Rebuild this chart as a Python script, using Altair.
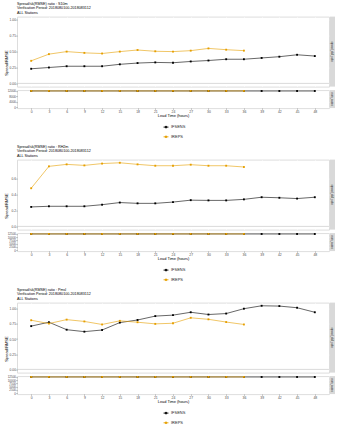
import altair as alt
import pandas as pd

# ---------------- data ----------------
leads_ifsens = [0, 3, 6, 9, 12, 15, 18, 21, 24, 27, 30, 33, 36, 39, 42, 45, 48]
leads_ireps = [0, 3, 6, 9, 12, 15, 18, 21, 24, 27, 30, 33, 36]
x_ticks = [0, 3, 6, 9, 12, 15, 18, 21, 24, 27, 30, 33, 36, 39, 42, 45, 48]
models = ["IFSENS", "IREPS"]
model_colors = ["#000000", "#E69F00"]

params = ["S10m", "RH2m", "Pmsl"]
title_prefix = "Spread/sk(RMSE) ratio : "
period_text = "Verification Period: 2018080100-2018083112"
stations_text = "ALL Stations"
y_title = "Spread/RMSE"
x_title = "Lead Time (hours)"
strip_top = "spread_skill_ratio"
strip_bottom = "num_cases"

# spread / RMSE ratios
s10m_ifsens = [0.23, 0.25, 0.27, 0.27, 0.27, 0.30, 0.32, 0.33, 0.325, 0.345, 0.36, 0.38, 0.38, 0.40, 0.42, 0.45, 0.43]
s10m_ireps = [0.355, 0.46, 0.50, 0.48, 0.47, 0.50, 0.525, 0.505, 0.50, 0.515, 0.55, 0.53, 0.515]
rh2m_ifsens = [0.245, 0.253, 0.253, 0.253, 0.273, 0.30, 0.29, 0.29, 0.306, 0.33, 0.327, 0.327, 0.34, 0.367, 0.36, 0.35, 0.367]
rh2m_ireps = [0.48, 0.755, 0.78, 0.767, 0.79, 0.80, 0.78, 0.763, 0.763, 0.776, 0.763, 0.763, 0.747]
pmsl_ifsens = [0.713, 0.777, 0.654, 0.622, 0.649, 0.771, 0.814, 0.878, 0.894, 0.941, 0.904, 0.92, 1.0, 1.048, 1.043, 1.016, 0.941]
pmsl_ireps = [0.81, 0.755, 0.82, 0.79, 0.74, 0.80, 0.777, 0.75, 0.76, 0.85, 0.825, 0.78, 0.74]

# number of cases
s10m_cases_ifsens = [11900, 11900, 11900, 11900, 11900, 11900, 11900, 11900, 11900, 11900, 11900, 11900, 11900, 11900, 11900, 11900, 11900]
s10m_cases_ireps = [11950, 11950, 11950, 11950, 11950, 11950, 11950, 11950, 11950, 11950, 11950, 11950, 11950]
rh2m_cases_ifsens = [12300, 12300, 12300, 12300, 12300, 12300, 12300, 12300, 12300, 12300, 12300, 12300, 12300, 12300, 12300, 12300, 12300]
rh2m_cases_ireps = [12350, 12350, 12350, 12350, 12350, 12350, 12350, 12350, 12350, 12350, 12350, 12350, 12350]
pmsl_cases_ifsens = [12300, 12300, 12300, 12300, 12300, 12300, 12300, 12300, 12300, 12300, 12300, 12300, 12300, 12300, 12300, 12300, 12300]
pmsl_cases_ireps = [12350, 12350, 12350, 12350, 12350, 12350, 12350, 12350, 12350, 12350, 12350, 12350, 12350]

ratio_ticks_a = [0, 0.25, 0.5, 0.75, 1.0]
ratio_ticks_b = [0, 0.2, 0.4, 0.6]
case_ticks_a = [0, 4000, 8000, 12000]
case_ticks_b = [0, 2500, 5000, 7500, 10000, 12500]
# upper limit the ratio axis must reach in each panel
ratio_reach = [1.0, 0.0, 0.0]

# ---------------- style ----------------
FONT = "Liberation Sans"
W = 312
H_TOP = 70
H_BOT = 18
BG = "#EBEBEB"
LEG_PATH = "M-1,0H1M-0.3,-0.3H0.3V0.3H-0.3Z"

x_scale = alt.Scale(domain=[-2.4, 50.4], nice=False, zero=False)
color_scale = alt.Scale(domain=models, range=model_colors)

legend_def = alt.Legend(
    title=None, orient="none", legendX=146, legendY=34, direction="vertical",
    symbolType=LEG_PATH, symbolSize=25, symbolStrokeWidth=0.8,
    labelFontSize=4, labelColor="#1A1A1A", labelFont=FONT, rowPadding=3.7,
    labelOffset=2, padding=0,
)


def build_df(ifs_vals, ireps_vals, ifs_cases, ireps_cases):
    rows = []
    for lead, v, c in zip(leads_ifsens, ifs_vals, ifs_cases):
        rows.append({"lead": lead, "model": models[0], "ratio": v, "cases": c})
    for lead, v, c in zip(leads_ireps, ireps_vals, ireps_cases):
        rows.append({"lead": lead, "model": models[1], "ratio": v, "cases": c})
    return pd.DataFrame(rows)


def strip(label, h):
    d = pd.DataFrame({"label": [label]})
    rect = alt.Chart(d).mark_rect(color="#D9D9D9").encode(
        x=alt.value(W + 1), x2=alt.value(W + 6), y=alt.value(0), y2=alt.value(h)
    )
    txt = alt.Chart(d).mark_text(angle=90, fontSize=2.6, color="#1A1A1A", font=FONT).encode(
        x=alt.value(W + 3.5), y=alt.value(h / 2), text="label:N"
    )
    return rect, txt


def axis_common(**kw):
    base = dict(
        labelFontSize=3.3, labelColor="#4D4D4D", labelFont=FONT, labelPadding=0.5,
        tickSize=1.0, tickColor="#333333", tickWidth=0.5, domain=False,
        grid=True, gridColor="white", gridWidth=0.5,
        labelOverlap=False, labelFlush=False,
    )
    base.update(kw)
    return alt.Axis(**base)


def panel(param, ifs_vals, ireps_vals, ifs_cases, ireps_cases, rticks, rfmt, cticks, reach):
    df = build_df(ifs_vals, ireps_vals, ifs_cases, ireps_cases)

    lo = min(0.0, df["ratio"].min())
    hi = max(reach, df["ratio"].max())
    pad = 0.05 * (hi - lo)
    rdom = [lo - pad, hi + pad]
    chi = df["cases"].max()
    cdom = [-0.05 * chi, chi * 1.05]

    base = alt.Chart(df)

    x_top = alt.X("lead:Q", scale=x_scale,
                  axis=axis_common(values=x_ticks, labels=False, ticks=False, title=None))
    y_top = alt.Y("ratio:Q", scale=alt.Scale(domain=rdom, nice=False, zero=False),
                  axis=axis_common(values=rticks, format=rfmt, title=y_title,
                                   titleX=-11, titleY=46, titleAngle=270,
                                   titleBaseline="middle", titleFontSize=4,
                                   titleFontWeight="normal", titleColor="black",
                                   titleFont=FONT))
    col_top = alt.Color("model:N", scale=color_scale, legend=None)

    zero = alt.Chart(pd.DataFrame({"ratio": [0.0]})).mark_rule(
        color="#C2C2C2", strokeWidth=0.6
    ).encode(y=y_top)
    line_t = base.mark_line(strokeWidth=0.6).encode(x=x_top, y=y_top, color=col_top)
    pts_t = base.mark_point(shape="square", filled=True, size=3.5, opacity=1).encode(
        x=x_top, y=y_top, color=col_top)
    r1, t1 = strip(strip_top, H_TOP)

    upper = alt.layer(line_t, zero, pts_t, r1, t1).properties(
        width=W, height=H_TOP,
        title=alt.TitleParams(
            text=[title_prefix + param, period_text, stations_text],
            anchor="start", frame="group", fontSize=3.7, fontWeight="normal",
            lineHeight=4.2, color="black", offset=2.3, font=FONT,
        ),
    )

    x_bot = alt.X("lead:Q", scale=x_scale,
                  axis=axis_common(values=x_ticks, title=x_title, titleFontSize=3.9,
                                   titleFontWeight="normal", titleColor="black",
                                   titleFont=FONT, titlePadding=1.2,
                                   labelFontSize=3.4, tickSize=0.9, labelPadding=0.4))
    y_bot = alt.Y("cases:Q", scale=alt.Scale(domain=cdom, nice=False, zero=False),
                  axis=axis_common(values=cticks, format="d", title=None, labelFontSize=3.0))
    col_bot = alt.Color("model:N", scale=color_scale, legend=legend_def)

    line_b = base.mark_line(strokeWidth=0.6).encode(x=x_bot, y=y_bot, color=col_bot)
    pts_b = base.mark_point(shape="square", filled=True, size=3.5, opacity=1).encode(
        x=x_bot, y=y_bot, color=col_bot)
    r2, t2 = strip(strip_bottom, H_BOT)

    lower = alt.layer(line_b, pts_b, r2, t2).properties(width=W, height=H_BOT)

    return alt.vconcat(upper, lower, spacing=1.5).resolve_scale(
        x="independent", y="independent"
    ).resolve_legend(color="independent")


p1 = panel(params[0], s10m_ifsens, s10m_ireps, s10m_cases_ifsens, s10m_cases_ireps,
           ratio_ticks_a, ".2f", case_ticks_a, ratio_reach[0])
p2 = panel(params[1], rh2m_ifsens, rh2m_ireps, rh2m_cases_ifsens, rh2m_cases_ireps,
           ratio_ticks_b, ".1f", case_ticks_b, ratio_reach[1])
p3 = panel(params[2], pmsl_ifsens, pmsl_ireps, pmsl_cases_ifsens, pmsl_cases_ireps,
           ratio_ticks_a, ".2f", case_ticks_b, ratio_reach[2])

chart = alt.vconcat(p1, p2, p3, spacing=4).resolve_scale(
    x="independent", y="independent"
).resolve_legend(color="independent").properties(
    padding={"left": 3, "top": 1.6, "right": 0, "bottom": 0},
    background="white",
).configure_view(fill=BG, stroke=None).configure(font=FONT)

chart.save("out.html", embed_options={"renderer": "svg", "actions": False})
